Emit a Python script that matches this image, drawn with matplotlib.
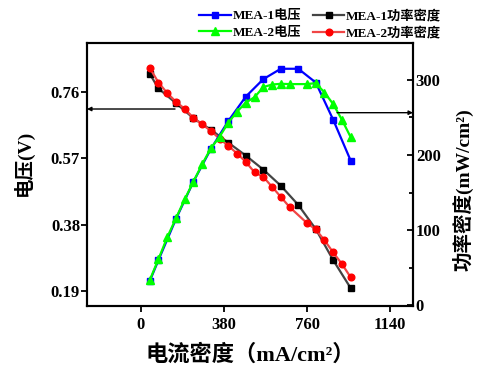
import matplotlib
matplotlib.use("Agg")
import matplotlib.pyplot as plt
from matplotlib.ticker import MultipleLocator, FixedLocator

plt.rcParams['font.family'] = ['Liberation Serif', 'Noto Sans CJK SC']
plt.rcParams['font.weight'] = 'bold'
plt.rcParams['axes.unicode_minus'] = False

# MEA-1 data
x1 = [40, 80, 160, 240, 320, 400, 480, 560, 640, 720, 800, 880, 960]
v1 = [0.812, 0.770, 0.728, 0.685, 0.652, 0.615, 0.578, 0.538, 0.492, 0.437, 0.368, 0.279, 0.199]
p1 = [32.0, 60.0, 114.7, 164.4, 208.0, 245.3, 277.7, 300.9, 314.7, 314.7, 296.4, 246.7, 192.4]

# MEA-2 data
x2 = [40, 80, 120, 160, 200, 240, 280, 320, 360, 400, 440, 480, 520, 560, 600, 640, 680,
      760, 800, 840, 880, 920, 960]
v2 = [0.829, 0.787, 0.757, 0.732, 0.712, 0.686, 0.667, 0.649, 0.626, 0.606, 0.584, 0.560,
      0.530, 0.517, 0.489, 0.460, 0.431, 0.385, 0.367, 0.336, 0.301, 0.268, 0.230]
p2 = [33.3, 61.3, 90.3, 115.6, 140.9, 164.4, 187.6, 208.9, 224.4, 243.1, 257.7, 269.7,
      276.9, 290.3, 293.7, 294.7, 294.3, 294.3, 295.6, 283.1, 267.6, 246.7, 223.6]

x_ticks = [0, 380, 760, 1140]
v_ticks = [0.19, 0.38, 0.57, 0.76]
p_ticks = [0, 100, 200, 300]

labels = ['MEA-1电压', 'MEA-1功率密度', 'MEA-2电压', 'MEA-2功率密度']

fig = plt.figure(figsize=(4.82, 3.69), dpi=100)
ax = fig.add_axes([0.1805, 0.1707, 0.6763, 0.7128])
ax2 = ax.twinx()

l_black, = ax.plot(x1, v1, color='#444444', lw=1.6, marker='s', markersize=4.5,
                   markerfacecolor='black', markeredgecolor='black', label=labels[1])
l_red, = ax.plot(x2, v2, color='#f04545', lw=1.6, marker='o', markersize=4.8,
                 markerfacecolor='#ff0000', markeredgecolor='#ff0000', label=labels[3])
l_blue, = ax2.plot(x1, p1, color='#0000ff', lw=1.6, marker='s', markersize=4.5,
                   label=labels[0])
l_green, = ax2.plot(x2, p2, color='#00ff00', lw=1.6, marker='^', markersize=5.4,
                    label=labels[2])

ax.set_xlim(-247, 1245)
ax.set_ylim(0.148, 0.900)
ax2.set_ylim(-1, 349)

ax.xaxis.set_major_locator(FixedLocator(x_ticks))
ax.yaxis.set_major_locator(FixedLocator(v_ticks))
ax.set_yticklabels(['%.2f' % v for v in v_ticks])
ax2.yaxis.set_major_locator(FixedLocator(p_ticks))
ax2.yaxis.set_minor_locator(MultipleLocator(50))

for a in (ax, ax2):
    for s in a.spines.values():
        s.set_linewidth(1.5)

ax.tick_params(axis='y', direction='out', length=4, width=1.3, pad=1, labelsize=12)
ax.tick_params(axis='x', direction='out', length=4, width=1.3, pad=4, labelsize=12)
ax2.tick_params(axis='y', which='major', direction='in', length=4, width=1.3, pad=2, labelsize=12)
ax2.tick_params(axis='y', which='minor', direction='in', length=3, width=1.3)

ax.set_xlabel('电流密度（mA/cm²）', fontsize=16, fontweight='bold', va='center')
ax.xaxis.set_label_coords(0.5, -0.186)
ax.set_ylabel('电压(V)', fontsize=14, fontweight='bold', va='center')
ax.yaxis.set_label_coords(-0.195, 0.544)
ax2.set_ylabel('功率密度(mW/cm²)', fontsize=14, fontweight='bold', va='center')
ax2.yaxis.set_label_coords(1.153, 0.441)

ax2.annotate('', xy=(0.0, 0.749), xytext=(0.27, 0.749), xycoords='axes fraction',
             arrowprops=dict(arrowstyle='-|>', lw=1.0, color='black', mutation_scale=6,
                             shrinkA=0, shrinkB=0))
ax2.annotate('', xy=(1.0, 0.735), xytext=(0.767, 0.735), xycoords='axes fraction',
             arrowprops=dict(arrowstyle='-|>', lw=1.0, color='black', mutation_scale=6,
                             shrinkA=0, shrinkB=0))

fig.legend([l_blue, l_green, l_black, l_red], [labels[0], labels[2], labels[1], labels[3]],
           ncol=2, loc='center', bbox_to_anchor=(0.664, 0.934), frameon=False,
           fontsize=9.5, handlelength=2.4, handletextpad=0.1, columnspacing=0.9,
           labelspacing=0.3, borderpad=0.1)

fig.savefig('out.png', dpi=100)
